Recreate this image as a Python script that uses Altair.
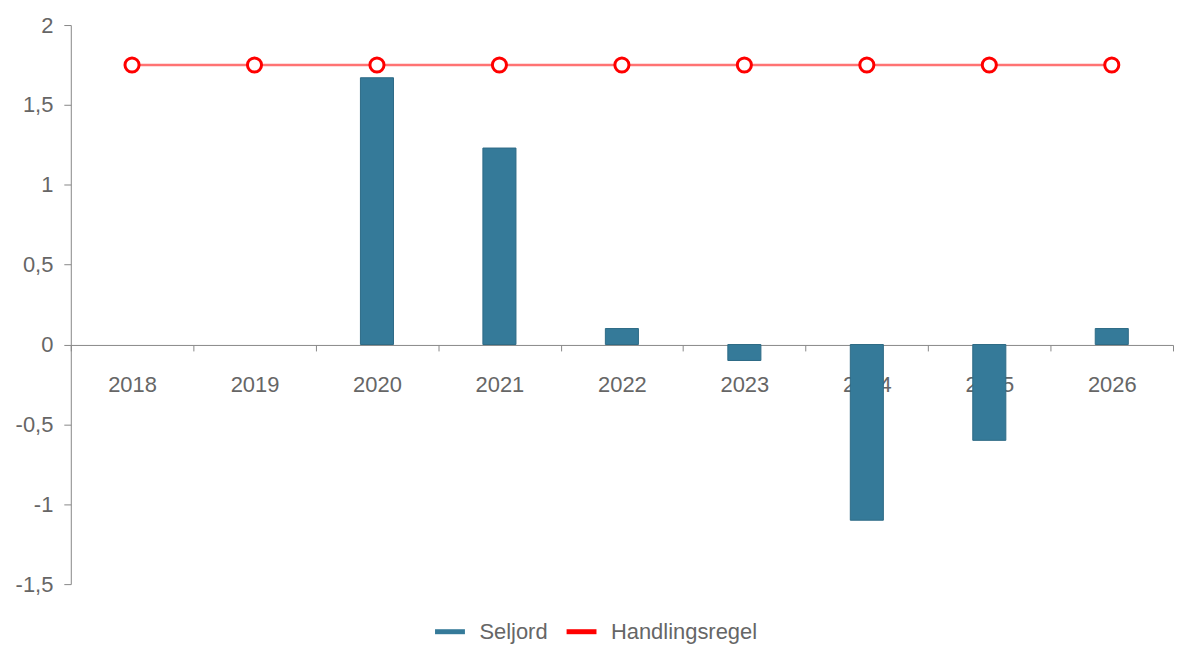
import altair as alt
import pandas as pd

years = ["2018", "2019", "2020", "2021", "2022", "2023", "2024", "2025", "2026"]
seljord = [0, 0, 1.67, 1.23, 0.1, -0.1, -1.1, -0.6, 0.1]
handlingsregel = [1.75] * 9
series_names = ["Seljord", "Handlingsregel"]
series_colors = ["#357a99", "#ff0000"]
y_ticks = [-1.5, -1, -0.5, 0, 0.5, 1, 1.5, 2]

bars_df = pd.DataFrame({"year": years, "value": seljord, "series": "Seljord"})
line_df = pd.DataFrame({"year": years, "value": handlingsregel, "series": "Handlingsregel"})

FONT = "Liberation Sans"
GRAY = "#666666"

x_enc = alt.X(
    "year:N",
    sort=years,
    title=None,
    scale=alt.Scale(paddingInner=0, paddingOuter=0),
    axis=alt.Axis(
        offset=-240,
        labelAngle=0,
        domainColor="#888888",
        tickColor="#888888",
        tickSize=6,
        tickBand="extent",
        labelPadding=24,
        labelFontSize=22,
        labelColor=GRAY,
        labelFont=FONT,
        grid=False,
    ),
)

y_scale = alt.Scale(domain=[-1.5, 2], nice=False, zero=False)
y_axis = alt.Axis(
    values=y_ticks,
    format=".1~f",
    labelExpr="replace(replace(datum.label, '.', ','), '\u2212', '-')",
    grid=False,
    domainColor="#888888",
    tickColor="#888888",
    tickSize=7,
    labelPadding=11,
    labelFontSize=22,
    labelColor=GRAY,
    labelFont=FONT,
    title=None,
)

bars = alt.Chart(bars_df).transform_filter(
    "datum.value != 0"
).mark_bar(
    width=alt.RelativeBandSize(0.27),
    color="#357a99",
    stroke="#2d6a86",
    strokeWidth=1,
).encode(
    x=x_enc,
    y=alt.Y("value:Q", scale=y_scale, axis=y_axis),
)

line = alt.Chart(line_df).mark_line(strokeWidth=2.5, strokeOpacity=0.55).encode(
    x=alt.X("year:N", sort=years),
    y=alt.Y("value:Q", scale=y_scale),
    color=alt.Color(
        "series:N",
        scale=alt.Scale(domain=series_names, range=series_colors),
        legend=alt.Legend(
            title=None,
            orient="none",
            legendX=363,
            legendY=591,
            direction="horizontal",
            symbolType="stroke",
            symbolSize=900,
            symbolStrokeWidth=5,
            symbolOpacity=1,
            labelFontSize=22,
            labelColor=GRAY,
            labelFont=FONT,
            labelOffset=12,
            columnPadding=8,
        ),
    ),
)

points = alt.Chart(line_df).mark_point(
    filled=False, fill="white", fillOpacity=1, stroke="#ff0000", strokeWidth=3, size=200, opacity=1
).encode(
    x=alt.X("year:N", sort=years),
    y=alt.Y("value:Q", scale=y_scale),
)

chart = alt.layer(bars, line, points).properties(
    width=1106,
    height=561,
    padding={"left": 7, "top": 5, "right": 0, "bottom": 5},
).configure(font=FONT).configure_view(stroke=None)

chart.save("out.html", embed_options={"renderer": "svg", "actions": False})
